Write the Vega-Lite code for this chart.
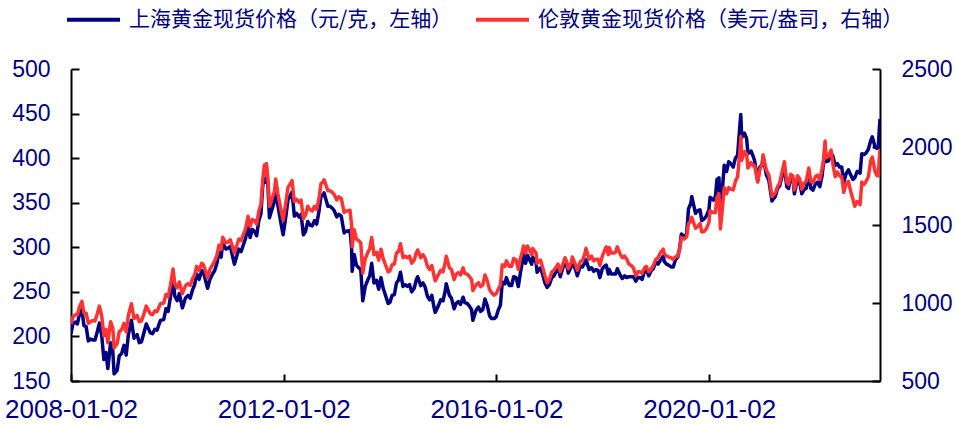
{
  "$schema": "https://vega.github.io/schema/vega-lite/v6.json",
  "width": 809,
  "height": 312,
  "autosize": {"type": "none"},
  "padding": {"left": 71, "top": 69, "right": 76, "bottom": 44},
  "background": "white",
  "config": {
    "view": {"stroke": null},
    "axis": {
      "labelFont": "Liberation Sans",
      "labelFontSize": 23,
      "labelColor": "#000080",
      "domainColor": "#000000",
      "domainWidth": 2,
      "tickColor": "#000000",
      "tickWidth": 2,
      "grid": false,
      "title": null
    }
  },
  "data": {
    "values": [
      {"d": "2008-01-02", "sh": 203, "ld": 865},
      {"d": "2008-01-15", "sh": 214, "ld": 910},
      {"d": "2008-01-31", "sh": 216, "ld": 925},
      {"d": "2008-02-15", "sh": 214, "ld": 925},
      {"d": "2008-02-29", "sh": 225, "ld": 975},
      {"d": "2008-03-17", "sh": 230, "ld": 1011},
      {"d": "2008-03-31", "sh": 212, "ld": 934},
      {"d": "2008-04-15", "sh": 211, "ld": 935},
      {"d": "2008-04-30", "sh": 195, "ld": 870},
      {"d": "2008-05-15", "sh": 197, "ld": 880},
      {"d": "2008-05-30", "sh": 196, "ld": 887},
      {"d": "2008-06-15", "sh": 196, "ld": 885},
      {"d": "2008-06-30", "sh": 205, "ld": 930},
      {"d": "2008-07-15", "sh": 215, "ld": 980},
      {"d": "2008-07-31", "sh": 201, "ld": 918},
      {"d": "2008-08-15", "sh": 174, "ld": 790},
      {"d": "2008-08-29", "sh": 182, "ld": 830},
      {"d": "2008-09-11", "sh": 164, "ld": 745},
      {"d": "2008-09-30", "sh": 193, "ld": 880},
      {"d": "2008-10-15", "sh": 184, "ld": 840},
      {"d": "2008-10-24", "sh": 158, "ld": 712},
      {"d": "2008-11-14", "sh": 162, "ld": 740},
      {"d": "2008-11-28", "sh": 178, "ld": 815},
      {"d": "2008-12-15", "sh": 181, "ld": 830},
      {"d": "2008-12-31", "sh": 190, "ld": 870},
      {"d": "2009-01-15", "sh": 179, "ld": 815},
      {"d": "2009-01-30", "sh": 202, "ld": 920},
      {"d": "2009-02-20", "sh": 218, "ld": 995},
      {"d": "2009-03-10", "sh": 198, "ld": 900},
      {"d": "2009-03-31", "sh": 202, "ld": 920},
      {"d": "2009-04-15", "sh": 193, "ld": 880},
      {"d": "2009-04-30", "sh": 194, "ld": 885},
      {"d": "2009-05-15", "sh": 203, "ld": 925},
      {"d": "2009-06-02", "sh": 214, "ld": 980},
      {"d": "2009-06-30", "sh": 204, "ld": 930},
      {"d": "2009-07-15", "sh": 203, "ld": 925},
      {"d": "2009-07-31", "sh": 208, "ld": 950},
      {"d": "2009-08-15", "sh": 207, "ld": 945},
      {"d": "2009-09-07", "sh": 218, "ld": 995},
      {"d": "2009-09-30", "sh": 219, "ld": 1000},
      {"d": "2009-10-15", "sh": 231, "ld": 1055},
      {"d": "2009-10-30", "sh": 228, "ld": 1040},
      {"d": "2009-11-16", "sh": 245, "ld": 1120},
      {"d": "2009-12-03", "sh": 266, "ld": 1218},
      {"d": "2009-12-15", "sh": 245, "ld": 1120},
      {"d": "2009-12-31", "sh": 240, "ld": 1097},
      {"d": "2010-01-15", "sh": 248, "ld": 1135},
      {"d": "2010-02-05", "sh": 232, "ld": 1060},
      {"d": "2010-02-26", "sh": 243, "ld": 1110},
      {"d": "2010-03-15", "sh": 246, "ld": 1125},
      {"d": "2010-03-31", "sh": 243, "ld": 1113},
      {"d": "2010-04-15", "sh": 252, "ld": 1155},
      {"d": "2010-04-30", "sh": 258, "ld": 1180},
      {"d": "2010-05-14", "sh": 270, "ld": 1235},
      {"d": "2010-05-31", "sh": 264, "ld": 1210},
      {"d": "2010-06-18", "sh": 274, "ld": 1255},
      {"d": "2010-06-30", "sh": 272, "ld": 1245},
      {"d": "2010-07-15", "sh": 262, "ld": 1200},
      {"d": "2010-07-28", "sh": 254, "ld": 1160},
      {"d": "2010-08-13", "sh": 264, "ld": 1215},
      {"d": "2010-08-31", "sh": 270, "ld": 1245},
      {"d": "2010-09-15", "sh": 274, "ld": 1270},
      {"d": "2010-09-30", "sh": 282, "ld": 1305},
      {"d": "2010-10-14", "sh": 294, "ld": 1370},
      {"d": "2010-10-29", "sh": 289, "ld": 1345},
      {"d": "2010-11-09", "sh": 305, "ld": 1421},
      {"d": "2010-11-30", "sh": 298, "ld": 1385},
      {"d": "2010-12-15", "sh": 299, "ld": 1390},
      {"d": "2010-12-31", "sh": 301, "ld": 1405},
      {"d": "2011-01-14", "sh": 291, "ld": 1365},
      {"d": "2011-01-28", "sh": 281, "ld": 1320},
      {"d": "2011-02-15", "sh": 291, "ld": 1372},
      {"d": "2011-02-28", "sh": 298, "ld": 1410},
      {"d": "2011-03-15", "sh": 295, "ld": 1400},
      {"d": "2011-03-31", "sh": 303, "ld": 1440},
      {"d": "2011-04-15", "sh": 310, "ld": 1475},
      {"d": "2011-05-02", "sh": 326, "ld": 1556},
      {"d": "2011-05-16", "sh": 311, "ld": 1490},
      {"d": "2011-05-31", "sh": 320, "ld": 1535},
      {"d": "2011-06-15", "sh": 318, "ld": 1530},
      {"d": "2011-06-30", "sh": 313, "ld": 1505},
      {"d": "2011-07-15", "sh": 330, "ld": 1590},
      {"d": "2011-07-29", "sh": 337, "ld": 1630},
      {"d": "2011-08-10", "sh": 367, "ld": 1780},
      {"d": "2011-08-22", "sh": 386, "ld": 1885},
      {"d": "2011-08-31", "sh": 373, "ld": 1815},
      {"d": "2011-09-05", "sh": 390, "ld": 1895},
      {"d": "2011-09-15", "sh": 370, "ld": 1800},
      {"d": "2011-09-26", "sh": 333, "ld": 1620},
      {"d": "2011-10-14", "sh": 343, "ld": 1670},
      {"d": "2011-10-31", "sh": 352, "ld": 1720},
      {"d": "2011-11-08", "sh": 365, "ld": 1795},
      {"d": "2011-11-23", "sh": 347, "ld": 1700},
      {"d": "2011-12-15", "sh": 326, "ld": 1590},
      {"d": "2011-12-29", "sh": 314, "ld": 1531},
      {"d": "2012-01-16", "sh": 334, "ld": 1640},
      {"d": "2012-01-31", "sh": 353, "ld": 1740},
      {"d": "2012-02-28", "sh": 362, "ld": 1785},
      {"d": "2012-03-15", "sh": 335, "ld": 1650},
      {"d": "2012-03-30", "sh": 338, "ld": 1665},
      {"d": "2012-04-16", "sh": 334, "ld": 1645},
      {"d": "2012-04-30", "sh": 337, "ld": 1660},
      {"d": "2012-05-16", "sh": 314, "ld": 1540},
      {"d": "2012-05-31", "sh": 318, "ld": 1565},
      {"d": "2012-06-15", "sh": 329, "ld": 1620},
      {"d": "2012-06-29", "sh": 325, "ld": 1600},
      {"d": "2012-07-16", "sh": 324, "ld": 1590},
      {"d": "2012-07-31", "sh": 330, "ld": 1620},
      {"d": "2012-08-15", "sh": 326, "ld": 1600},
      {"d": "2012-08-31", "sh": 340, "ld": 1670},
      {"d": "2012-09-14", "sh": 358, "ld": 1765},
      {"d": "2012-09-28", "sh": 358, "ld": 1775},
      {"d": "2012-10-05", "sh": 361, "ld": 1790},
      {"d": "2012-10-31", "sh": 346, "ld": 1720},
      {"d": "2012-11-15", "sh": 346, "ld": 1720},
      {"d": "2012-11-30", "sh": 344, "ld": 1710},
      {"d": "2012-12-14", "sh": 341, "ld": 1695},
      {"d": "2012-12-31", "sh": 334, "ld": 1660},
      {"d": "2013-01-15", "sh": 337, "ld": 1680},
      {"d": "2013-01-31", "sh": 335, "ld": 1670},
      {"d": "2013-02-20", "sh": 316, "ld": 1580},
      {"d": "2013-02-28", "sh": 318, "ld": 1590},
      {"d": "2013-03-15", "sh": 318, "ld": 1590},
      {"d": "2013-04-01", "sh": 319, "ld": 1595},
      {"d": "2013-04-12", "sh": 300, "ld": 1500},
      {"d": "2013-04-16", "sh": 273, "ld": 1360},
      {"d": "2013-04-30", "sh": 292, "ld": 1470},
      {"d": "2013-05-15", "sh": 280, "ld": 1410},
      {"d": "2013-05-31", "sh": 277, "ld": 1400},
      {"d": "2013-06-14", "sh": 275, "ld": 1385},
      {"d": "2013-06-28", "sh": 240, "ld": 1192},
      {"d": "2013-07-15", "sh": 256, "ld": 1285},
      {"d": "2013-07-31", "sh": 263, "ld": 1320},
      {"d": "2013-08-15", "sh": 268, "ld": 1350},
      {"d": "2013-08-28", "sh": 282, "ld": 1420},
      {"d": "2013-09-13", "sh": 260, "ld": 1310},
      {"d": "2013-09-30", "sh": 263, "ld": 1325},
      {"d": "2013-10-15", "sh": 253, "ld": 1275},
      {"d": "2013-10-31", "sh": 266, "ld": 1345},
      {"d": "2013-11-15", "sh": 254, "ld": 1285},
      {"d": "2013-11-29", "sh": 247, "ld": 1250},
      {"d": "2013-12-19", "sh": 237, "ld": 1200},
      {"d": "2013-12-31", "sh": 238, "ld": 1205},
      {"d": "2014-01-15", "sh": 246, "ld": 1245},
      {"d": "2014-01-31", "sh": 247, "ld": 1250},
      {"d": "2014-02-14", "sh": 260, "ld": 1320},
      {"d": "2014-02-28", "sh": 263, "ld": 1330},
      {"d": "2014-03-14", "sh": 272, "ld": 1380},
      {"d": "2014-03-31", "sh": 256, "ld": 1290},
      {"d": "2014-04-15", "sh": 258, "ld": 1300},
      {"d": "2014-04-30", "sh": 256, "ld": 1290},
      {"d": "2014-05-15", "sh": 258, "ld": 1300},
      {"d": "2014-05-30", "sh": 250, "ld": 1255},
      {"d": "2014-06-16", "sh": 254, "ld": 1275},
      {"d": "2014-06-30", "sh": 263, "ld": 1320},
      {"d": "2014-07-10", "sh": 267, "ld": 1340},
      {"d": "2014-07-31", "sh": 257, "ld": 1290},
      {"d": "2014-08-15", "sh": 260, "ld": 1310},
      {"d": "2014-08-29", "sh": 256, "ld": 1290},
      {"d": "2014-09-15", "sh": 245, "ld": 1235},
      {"d": "2014-09-30", "sh": 241, "ld": 1215},
      {"d": "2014-10-15", "sh": 246, "ld": 1240},
      {"d": "2014-10-31", "sh": 232, "ld": 1170},
      {"d": "2014-11-07", "sh": 227, "ld": 1142},
      {"d": "2014-11-28", "sh": 234, "ld": 1180},
      {"d": "2014-12-15", "sh": 241, "ld": 1210},
      {"d": "2014-12-31", "sh": 240, "ld": 1200},
      {"d": "2015-01-15", "sh": 251, "ld": 1260},
      {"d": "2015-01-22", "sh": 259, "ld": 1300},
      {"d": "2015-02-13", "sh": 246, "ld": 1225},
      {"d": "2015-02-27", "sh": 243, "ld": 1215},
      {"d": "2015-03-17", "sh": 231, "ld": 1150},
      {"d": "2015-03-31", "sh": 237, "ld": 1185},
      {"d": "2015-04-15", "sh": 239, "ld": 1195},
      {"d": "2015-04-30", "sh": 236, "ld": 1180},
      {"d": "2015-05-18", "sh": 244, "ld": 1225},
      {"d": "2015-05-29", "sh": 238, "ld": 1190},
      {"d": "2015-06-15", "sh": 237, "ld": 1185},
      {"d": "2015-06-30", "sh": 234, "ld": 1170},
      {"d": "2015-07-15", "sh": 230, "ld": 1150},
      {"d": "2015-07-24", "sh": 218, "ld": 1080},
      {"d": "2015-08-14", "sh": 229, "ld": 1115},
      {"d": "2015-08-31", "sh": 233, "ld": 1130},
      {"d": "2015-09-15", "sh": 228, "ld": 1105},
      {"d": "2015-09-30", "sh": 230, "ld": 1115},
      {"d": "2015-10-15", "sh": 242, "ld": 1180},
      {"d": "2015-10-30", "sh": 235, "ld": 1145},
      {"d": "2015-11-16", "sh": 223, "ld": 1085},
      {"d": "2015-11-30", "sh": 220, "ld": 1065},
      {"d": "2015-12-17", "sh": 220, "ld": 1050},
      {"d": "2015-12-31", "sh": 222, "ld": 1060},
      {"d": "2016-01-15", "sh": 230, "ld": 1090},
      {"d": "2016-01-29", "sh": 235, "ld": 1115},
      {"d": "2016-02-11", "sh": 261, "ld": 1245},
      {"d": "2016-02-29", "sh": 259, "ld": 1235},
      {"d": "2016-03-10", "sh": 266, "ld": 1270},
      {"d": "2016-03-31", "sh": 257, "ld": 1235},
      {"d": "2016-04-15", "sh": 257, "ld": 1235},
      {"d": "2016-04-29", "sh": 267, "ld": 1285},
      {"d": "2016-05-16", "sh": 266, "ld": 1275},
      {"d": "2016-05-31", "sh": 256, "ld": 1215},
      {"d": "2016-06-15", "sh": 272, "ld": 1290},
      {"d": "2016-06-24", "sh": 280, "ld": 1315},
      {"d": "2016-07-06", "sh": 292, "ld": 1366},
      {"d": "2016-07-20", "sh": 282, "ld": 1320},
      {"d": "2016-08-02", "sh": 291, "ld": 1365},
      {"d": "2016-08-31", "sh": 281, "ld": 1310},
      {"d": "2016-09-07", "sh": 289, "ld": 1350},
      {"d": "2016-09-30", "sh": 283, "ld": 1320},
      {"d": "2016-10-07", "sh": 272, "ld": 1255},
      {"d": "2016-10-31", "sh": 277, "ld": 1275},
      {"d": "2016-11-15", "sh": 269, "ld": 1225},
      {"d": "2016-11-30", "sh": 260, "ld": 1175},
      {"d": "2016-12-15", "sh": 255, "ld": 1130},
      {"d": "2016-12-30", "sh": 258, "ld": 1150},
      {"d": "2017-01-16", "sh": 266, "ld": 1200},
      {"d": "2017-01-31", "sh": 268, "ld": 1210},
      {"d": "2017-02-15", "sh": 273, "ld": 1230},
      {"d": "2017-02-28", "sh": 277, "ld": 1250},
      {"d": "2017-03-15", "sh": 267, "ld": 1200},
      {"d": "2017-03-31", "sh": 276, "ld": 1245},
      {"d": "2017-04-17", "sh": 285, "ld": 1290},
      {"d": "2017-04-28", "sh": 280, "ld": 1265},
      {"d": "2017-05-09", "sh": 271, "ld": 1220},
      {"d": "2017-05-31", "sh": 279, "ld": 1265},
      {"d": "2017-06-06", "sh": 284, "ld": 1295},
      {"d": "2017-06-30", "sh": 274, "ld": 1240},
      {"d": "2017-07-10", "sh": 268, "ld": 1210},
      {"d": "2017-07-31", "sh": 279, "ld": 1265},
      {"d": "2017-08-15", "sh": 278, "ld": 1275},
      {"d": "2017-08-31", "sh": 283, "ld": 1315},
      {"d": "2017-09-08", "sh": 286, "ld": 1350},
      {"d": "2017-09-29", "sh": 275, "ld": 1280},
      {"d": "2017-10-16", "sh": 277, "ld": 1300},
      {"d": "2017-10-31", "sh": 273, "ld": 1270},
      {"d": "2017-11-15", "sh": 275, "ld": 1280},
      {"d": "2017-11-30", "sh": 274, "ld": 1280},
      {"d": "2017-12-12", "sh": 266, "ld": 1240},
      {"d": "2017-12-29", "sh": 276, "ld": 1300},
      {"d": "2018-01-15", "sh": 279, "ld": 1340},
      {"d": "2018-01-25", "sh": 280, "ld": 1360},
      {"d": "2018-02-08", "sh": 270, "ld": 1310},
      {"d": "2018-02-15", "sh": 275, "ld": 1355},
      {"d": "2018-02-28", "sh": 270, "ld": 1320},
      {"d": "2018-03-15", "sh": 270, "ld": 1320},
      {"d": "2018-03-30", "sh": 270, "ld": 1325},
      {"d": "2018-04-11", "sh": 276, "ld": 1360},
      {"d": "2018-04-30", "sh": 269, "ld": 1315},
      {"d": "2018-05-15", "sh": 265, "ld": 1290},
      {"d": "2018-05-31", "sh": 268, "ld": 1300},
      {"d": "2018-06-15", "sh": 266, "ld": 1280},
      {"d": "2018-06-29", "sh": 267, "ld": 1250},
      {"d": "2018-07-16", "sh": 267, "ld": 1240},
      {"d": "2018-07-31", "sh": 267, "ld": 1225},
      {"d": "2018-08-16", "sh": 262, "ld": 1175},
      {"d": "2018-08-31", "sh": 266, "ld": 1200},
      {"d": "2018-09-14", "sh": 266, "ld": 1200},
      {"d": "2018-09-28", "sh": 264, "ld": 1190},
      {"d": "2018-10-15", "sh": 273, "ld": 1225},
      {"d": "2018-10-26", "sh": 276, "ld": 1235},
      {"d": "2018-11-13", "sh": 268, "ld": 1200},
      {"d": "2018-11-30", "sh": 274, "ld": 1220},
      {"d": "2018-12-14", "sh": 276, "ld": 1240},
      {"d": "2018-12-31", "sh": 284, "ld": 1280},
      {"d": "2019-01-15", "sh": 281, "ld": 1290},
      {"d": "2019-01-31", "sh": 285, "ld": 1320},
      {"d": "2019-02-20", "sh": 290, "ld": 1345},
      {"d": "2019-02-28", "sh": 284, "ld": 1315},
      {"d": "2019-03-15", "sh": 281, "ld": 1300},
      {"d": "2019-03-29", "sh": 280, "ld": 1295},
      {"d": "2019-04-15", "sh": 278, "ld": 1290},
      {"d": "2019-04-30", "sh": 278, "ld": 1280},
      {"d": "2019-05-15", "sh": 286, "ld": 1295},
      {"d": "2019-05-31", "sh": 289, "ld": 1300},
      {"d": "2019-06-14", "sh": 300, "ld": 1345},
      {"d": "2019-06-25", "sh": 315, "ld": 1420},
      {"d": "2019-07-15", "sh": 312, "ld": 1410},
      {"d": "2019-07-31", "sh": 315, "ld": 1425},
      {"d": "2019-08-13", "sh": 343, "ld": 1510},
      {"d": "2019-08-30", "sh": 350, "ld": 1525},
      {"d": "2019-09-04", "sh": 357, "ld": 1550},
      {"d": "2019-09-30", "sh": 338, "ld": 1480},
      {"d": "2019-10-15", "sh": 341, "ld": 1490},
      {"d": "2019-10-31", "sh": 342, "ld": 1510},
      {"d": "2019-11-12", "sh": 330, "ld": 1455},
      {"d": "2019-11-29", "sh": 332, "ld": 1460},
      {"d": "2019-12-13", "sh": 335, "ld": 1475},
      {"d": "2019-12-31", "sh": 342, "ld": 1515},
      {"d": "2020-01-08", "sh": 356, "ld": 1590},
      {"d": "2020-01-31", "sh": 353, "ld": 1580},
      {"d": "2020-02-14", "sh": 357, "ld": 1580},
      {"d": "2020-02-24", "sh": 376, "ld": 1675},
      {"d": "2020-03-09", "sh": 378, "ld": 1700},
      {"d": "2020-03-19", "sh": 337, "ld": 1475},
      {"d": "2020-03-31", "sh": 362, "ld": 1590},
      {"d": "2020-04-14", "sh": 392, "ld": 1740},
      {"d": "2020-04-30", "sh": 385, "ld": 1700},
      {"d": "2020-05-15", "sh": 396, "ld": 1740},
      {"d": "2020-05-29", "sh": 394, "ld": 1730},
      {"d": "2020-06-15", "sh": 390, "ld": 1725},
      {"d": "2020-06-30", "sh": 400, "ld": 1780},
      {"d": "2020-07-15", "sh": 403, "ld": 1810},
      {"d": "2020-07-31", "sh": 437, "ld": 1975},
      {"d": "2020-08-06", "sh": 449, "ld": 2067},
      {"d": "2020-08-12", "sh": 423, "ld": 1915},
      {"d": "2020-08-31", "sh": 428, "ld": 1970},
      {"d": "2020-09-15", "sh": 422, "ld": 1955},
      {"d": "2020-09-24", "sh": 405, "ld": 1865},
      {"d": "2020-10-15", "sh": 408, "ld": 1900},
      {"d": "2020-10-30", "sh": 402, "ld": 1880},
      {"d": "2020-11-09", "sh": 397, "ld": 1880},
      {"d": "2020-11-30", "sh": 375, "ld": 1775},
      {"d": "2020-12-15", "sh": 390, "ld": 1855},
      {"d": "2020-12-31", "sh": 393, "ld": 1890},
      {"d": "2021-01-06", "sh": 402, "ld": 1950},
      {"d": "2021-01-29", "sh": 381, "ld": 1850},
      {"d": "2021-02-15", "sh": 375, "ld": 1820},
      {"d": "2021-03-08", "sh": 352, "ld": 1683},
      {"d": "2021-03-31", "sh": 357, "ld": 1705},
      {"d": "2021-04-15", "sh": 366, "ld": 1745},
      {"d": "2021-04-30", "sh": 369, "ld": 1770},
      {"d": "2021-05-14", "sh": 378, "ld": 1830},
      {"d": "2021-06-01", "sh": 390, "ld": 1905},
      {"d": "2021-06-18", "sh": 368, "ld": 1775},
      {"d": "2021-06-30", "sh": 366, "ld": 1760},
      {"d": "2021-07-15", "sh": 379, "ld": 1825},
      {"d": "2021-07-30", "sh": 377, "ld": 1815},
      {"d": "2021-08-09", "sh": 360, "ld": 1725},
      {"d": "2021-08-31", "sh": 377, "ld": 1815},
      {"d": "2021-09-15", "sh": 372, "ld": 1795},
      {"d": "2021-09-29", "sh": 360, "ld": 1730},
      {"d": "2021-10-15", "sh": 365, "ld": 1770},
      {"d": "2021-10-29", "sh": 366, "ld": 1780},
      {"d": "2021-11-16", "sh": 381, "ld": 1865},
      {"d": "2021-11-30", "sh": 366, "ld": 1780},
      {"d": "2021-12-15", "sh": 364, "ld": 1770},
      {"d": "2021-12-31", "sh": 371, "ld": 1810},
      {"d": "2022-01-14", "sh": 373, "ld": 1820},
      {"d": "2022-01-31", "sh": 368, "ld": 1790},
      {"d": "2022-02-15", "sh": 380, "ld": 1860},
      {"d": "2022-02-24", "sh": 393, "ld": 1910},
      {"d": "2022-03-08", "sh": 410, "ld": 2039},
      {"d": "2022-03-15", "sh": 396, "ld": 1930},
      {"d": "2022-03-31", "sh": 397, "ld": 1940},
      {"d": "2022-04-18", "sh": 405, "ld": 1980},
      {"d": "2022-04-29", "sh": 403, "ld": 1900},
      {"d": "2022-05-16", "sh": 392, "ld": 1810},
      {"d": "2022-05-31", "sh": 394, "ld": 1840},
      {"d": "2022-06-15", "sh": 390, "ld": 1815},
      {"d": "2022-06-30", "sh": 390, "ld": 1810},
      {"d": "2022-07-14", "sh": 373, "ld": 1710},
      {"d": "2022-07-29", "sh": 382, "ld": 1760},
      {"d": "2022-08-15", "sh": 387, "ld": 1780},
      {"d": "2022-08-31", "sh": 381, "ld": 1715},
      {"d": "2022-09-15", "sh": 376, "ld": 1665},
      {"d": "2022-09-28", "sh": 378, "ld": 1620},
      {"d": "2022-10-14", "sh": 385, "ld": 1650},
      {"d": "2022-10-31", "sh": 384, "ld": 1640},
      {"d": "2022-11-03", "sh": 383, "ld": 1630},
      {"d": "2022-11-15", "sh": 405, "ld": 1775},
      {"d": "2022-11-30", "sh": 404, "ld": 1760},
      {"d": "2022-12-15", "sh": 406, "ld": 1780},
      {"d": "2022-12-30", "sh": 410, "ld": 1810},
      {"d": "2023-01-16", "sh": 420, "ld": 1915},
      {"d": "2023-01-26", "sh": 424, "ld": 1935},
      {"d": "2023-02-15", "sh": 412, "ld": 1840},
      {"d": "2023-02-28", "sh": 411, "ld": 1815},
      {"d": "2023-03-08", "sh": 412, "ld": 1815},
      {"d": "2023-03-15", "sh": 432, "ld": 1920},
      {"d": "2023-03-20", "sh": 444, "ld": 1985}
    ]
  },
  "encoding": {
    "x": {
      "field": "d",
      "type": "temporal",
      "scale": {
        "type": "utc",
        "nice": false,
        "domain": [
          {"year": 2008, "month": 1, "date": 2, "utc": true},
          {"year": 2023, "month": 3, "date": 20, "utc": true}
        ]
      },
      "axis": {
        "values": [
          {"year": 2008, "month": 1, "date": 2, "utc": true},
          {"year": 2012, "month": 1, "date": 2, "utc": true},
          {"year": 2016, "month": 1, "date": 2, "utc": true},
          {"year": 2020, "month": 1, "date": 2, "utc": true}
        ],
        "format": "%Y-%m-%d",
        "labelFontSize": 26,
        "labelFlush": false,
        "labelOverlap": false,
        "tickSize": -7,
        "labelPadding": 22
      }
    }
  },
  "layer": [
    {
      "mark": {"type": "line", "strokeWidth": 3.5, "strokeJoin": "round", "clip": true},
      "encoding": {
        "y": {
          "field": "sh",
          "type": "quantitative",
          "scale": {"domain": [150, 500], "nice": false, "zero": false},
          "axis": {
            "orient": "left",
            "values": [150, 200, 250, 300, 350, 400, 450, 500],
            "format": "d",
            "tickSize": -8,
            "labelPadding": 29
          }
        },
        "color": {
          "datum": "上海黄金现货价格（元/克，左轴）",
          "type": "nominal",
          "scale": {
            "domain": ["上海黄金现货价格（元/克，左轴）", "伦敦黄金现货价格（美元/盎司，右轴）"],
            "range": ["#000080", "#FF3333"]
          },
          "legend": {
            "orient": "none",
            "legendX": -6,
            "legendY": -78,
            "direction": "horizontal",
            "title": null,
            "symbolType": "stroke",
            "symbolSize": 2809,
            "symbolStrokeWidth": 4,
            "labelFont": "Noto Sans CJK SC",
            "labelFontSize": 21,
            "labelColor": "#000080",
            "labelOffset": 7,
            "labelLimit": 0,
            "columnPadding": 15
          }
        }
      }
    },
    {
      "mark": {"type": "line", "strokeWidth": 3.5, "strokeJoin": "round", "clip": true},
      "encoding": {
        "y": {
          "field": "ld",
          "type": "quantitative",
          "scale": {"domain": [500, 2500], "nice": false, "zero": false},
          "axis": {
            "orient": "right",
            "values": [500, 1000, 1500, 2000, 2500],
            "format": "d",
            "tickSize": -8,
            "labelPadding": 29
          }
        },
        "color": {"datum": "伦敦黄金现货价格（美元/盎司，右轴）", "type": "nominal"}
      }
    }
  ],
  "resolve": {"scale": {"y": "independent"}}
}
